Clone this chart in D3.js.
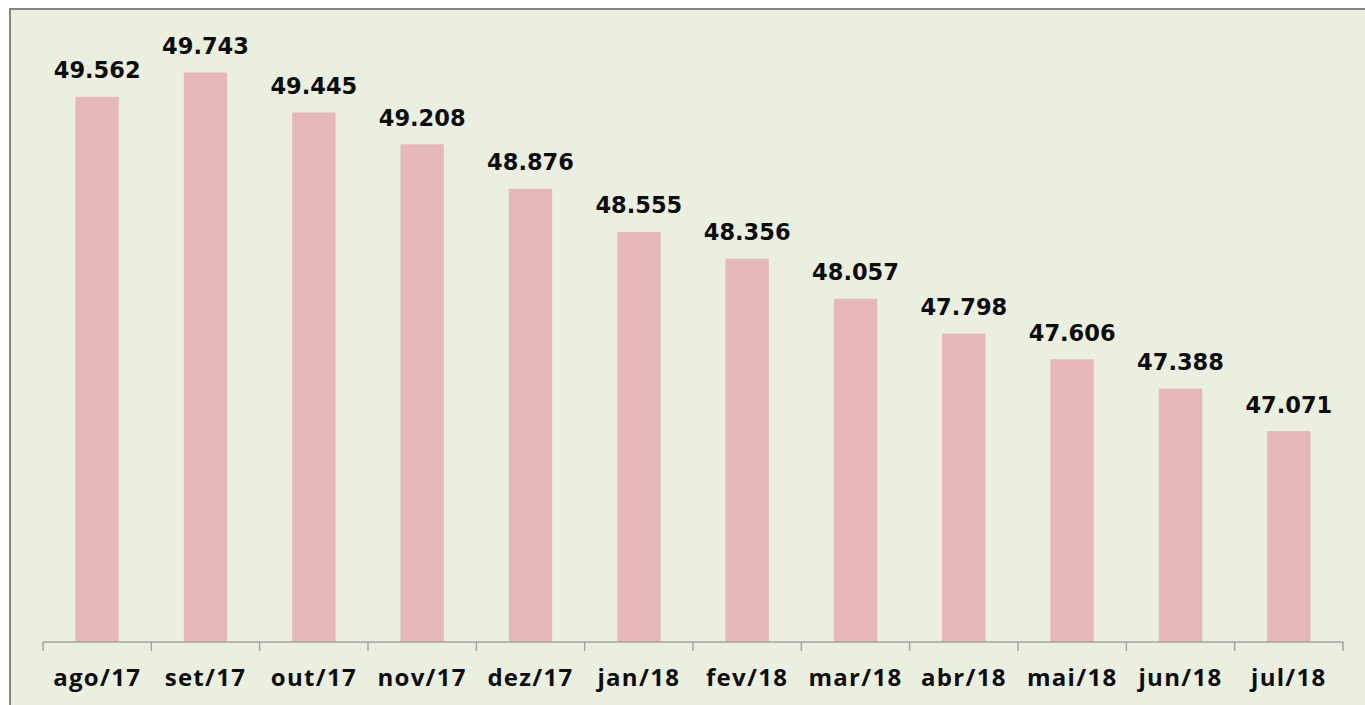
<!DOCTYPE html>
<html>
<head>
<meta charset="utf-8">
<script src="https://cdn.jsdelivr.net/npm/d3@7"></script>
<style>
  body { margin: 0; background: #fff; }
</style>
</head>
<body>
<div id="chart"></div>
<script>
let width = 1365, height = 705;
let margin = ({top: 38, right: 22, bottom: 63, left: 43});

let months = ["ago/17","set/17","out/17","nov/17","dez/17","jan/18","fev/18","mar/18","abr/18","mai/18","jun/18","jul/18"];
let values = [49.562, 49.743, 49.445, 49.208, 48.876, 48.555, 48.356, 48.057, 47.798, 47.606, 47.388, 47.071];
let yDomain = [45.5, 50];

let data = months.map((m, i) => ({x: m, y: values[i]}));

let x = d3.scaleBand()
    .domain(months)
    .range([margin.left, width - margin.right])
    .paddingInner(0.6)
    .paddingOuter(0.3);

let y = d3.scaleLinear()
    .domain(yDomain)
    .range([height - margin.bottom, margin.top]);

let svg = d3.select("#chart")
    .append("svg")
    .attr("width", width)
    .attr("height", height);

// chart area background + border (right/bottom edges cut off like the source)
svg.append("rect")
    .attr("x", 10).attr("y", 9)
    .attr("width", width + 20).attr("height", height + 20)
    .attr("fill", "#ebefe0")
    .attr("stroke", "#858585")
    .attr("stroke-width", 2);

svg.append("g")
    .attr("class", "bars")
    .attr("fill", "#e6b8b7")
    .selectAll("rect")
    .data(data)
    .join("rect")
    .attr("x", d => x(d.x))
    .attr("y", d => y(d.y))
    .attr("height", d => y(yDomain[0]) - y(d.y))
    .attr("width", x.bandwidth());

svg.append("g")
    .attr("class", "labels")
    .selectAll("text")
    .data(data)
    .join("text")
    .attr("x", d => x(d.x) + x.bandwidth() / 2)
    .attr("y", d => y(d.y) - 18.5)
    .attr("text-anchor", "middle")
    .attr("font-family", "DejaVu Sans")
    .attr("font-weight", "bold")
    .attr("font-size", 22.5)
    .attr("fill", "#0d0d0d")
    .text(d => d3.format(".3f")(d.y));

// x axis with ticks at band boundaries
let xAxis = svg.append("g")
    .attr("class", "x-axis")
    .attr("transform", `translate(0,${height - margin.bottom})`);

xAxis.append("line")
    .attr("x1", margin.left).attr("x2", width - margin.right)
    .attr("stroke", "#a3a3a3").attr("stroke-width", 1.5);

let edges = months.map(m => x(m) - x.step() * x.paddingInner() / 2).concat([width - margin.right]);
edges[0] = margin.left;
xAxis.selectAll(".tick-line")
    .data(edges)
    .join("line")
    .attr("class", "tick-line")
    .attr("x1", d => d).attr("x2", d => d)
    .attr("y1", 0).attr("y2", 9)
    .attr("stroke", "#a3a3a3").attr("stroke-width", 1.5);

xAxis.selectAll(".tick-label")
    .data(months)
    .join("text")
    .attr("class", "tick-label")
    .attr("x", d => x(d) + x.bandwidth() / 2)
    .attr("y", 44)
    .attr("text-anchor", "middle")
    .attr("font-family", "Open Sans")
    .attr("font-weight", "bold")
    .attr("font-size", 24)
    .attr("letter-spacing", 1.3)
    .attr("fill", "#0d0d0d")
    .text(d => d);
</script>
</body>
</html>
